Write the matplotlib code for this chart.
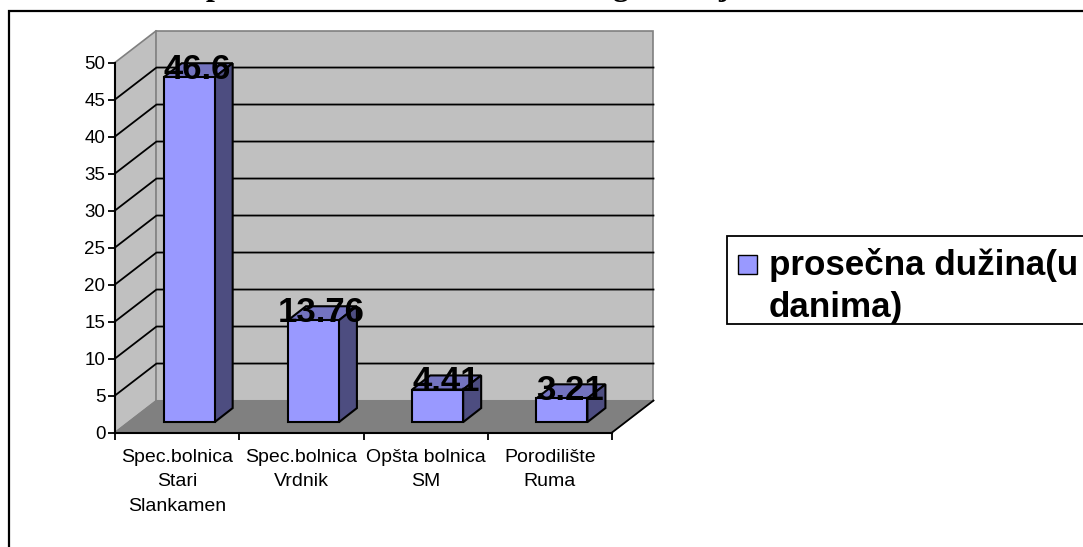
import matplotlib
matplotlib.use('Agg')
import matplotlib.pyplot as plt
from matplotlib.patches import Polygon, Rectangle

categories = ['Spec.bolnica\nStari\nSlankamen', 'Spec.bolnica\nVrdnik', 'Opšta bolnica\nSM', 'Porodilište\nRuma']
values = [46.6, 13.76, 4.41, 3.21]
value_labels = ['46.6', '13.76', '4.41', '3.21']
y_ticks = list(range(0, 55, 5))
legend_text = 'prosečna dužina(u\ndanima)'
# only the descenders of the cropped heading show at the top edge
cut_title = [('p', 215), ('g', 620), ('j', 724)]

W, H = 1083, 547
WALL = '#c0c0c0'
FLOOR = '#808080'
FRONT = '#9999ff'
TOP = '#7373bf'
SIDE = '#4d4d80'

# depth of the 3d box and of the bars, in data units
depth_x, depth_y = 0.334, 4.32
bar_off_x, bar_off_y = 0.392, 1.4
bar_w = 0.41
bar_dx, bar_dy = 0.145, 1.9

plt.rcParams['font.family'] = ['Liberation Sans', 'DejaVu Sans']
fig = plt.figure(figsize=(W / 100, H / 100), dpi=100)
# page frame, only top and left fall inside the picture
fig.add_artist(Rectangle((9 / W, 1 - 600 / H), 1200 / W, (600 - 11) / H, fill=False, ec='black', lw=1.6,
                         transform=fig.transFigure))

for ch, px in cut_title:
  fig.text(px / W, 1 + 4.5 / H, ch, ha='center', va='baseline', fontsize=23, fontweight='bold',
           family='Liberation Serif')

ax = fig.add_axes([115 / W, 1 - 432.5 / H, (612 - 115) / W, 370 / H], facecolor='none')
ax.set_xlim(0, 4)
ax.set_ylim(0, 50)


def poly(pts, fc, ec='black', lw=1.5, z=2):
  ax.add_patch(Polygon(pts, closed=True, fc=fc, ec=ec, lw=lw, zorder=z, clip_on=False, joinstyle='miter'))


# walls and floor
poly([(0, 0), (depth_x, depth_y), (depth_x, 50 + depth_y), (0, 50)], WALL, '#808080', 1.2, 1)
poly([(depth_x, depth_y), (4 + depth_x, depth_y), (4 + depth_x, 50 + depth_y), (depth_x, 50 + depth_y)], WALL, '#808080', 1.2, 1)
poly([(0, 0), (4, 0), (4 + depth_x, depth_y), (depth_x, depth_y)], FLOOR, '#808080', 0.8, 1)
ax.plot([4, 4 + depth_x], [0, depth_y], color='black', lw=1.3, zorder=1.5, clip_on=False)

# gridlines on both walls
for t in y_ticks[1:-1]:
  ax.plot([0, depth_x, 4 + depth_x], [t, t + depth_y, t + depth_y], color='black', lw=1.3, zorder=1.5, clip_on=False)

for i, v in enumerate(values):
  x0 = i + bar_off_x
  x1 = x0 + bar_w
  y0 = bar_off_y
  y1 = y0 + v
  poly([(x0, y1), (x1, y1), (x1 + bar_dx, y1 + bar_dy), (x0 + bar_dx, y1 + bar_dy)], TOP, z=3)
  poly([(x1, y0), (x1 + bar_dx, y0 + bar_dy), (x1 + bar_dx, y1 + bar_dy), (x1, y1)], SIDE, z=3)
  poly([(x0, y0), (x1, y0), (x1, y1), (x0, y1)], FRONT, z=4)
  ax.text(x0 + 0.27, y1 + 1.05, value_labels[i], ha='center', va='center', fontsize=25, fontweight='bold',
          color='black', zorder=6, clip_on=False)

for s in ['top', 'right']:
  ax.spines[s].set_visible(False)
for s in ['left', 'bottom']:
  ax.spines[s].set_linewidth(1.5)
  ax.spines[s].set_zorder(5)

ax.set_yticks(y_ticks)
ax.set_xticks(range(5))
ax.set_xticklabels([''] * 5)
ax.tick_params(axis='both', length=5, width=1.3, labelsize=13.5, pad=2)
for i, c in enumerate(categories):
  ax.text(i + 0.5, -2.2, c, ha='center', va='top', fontsize=14, linespacing=1.59, clip_on=False)

# legend box runs off the right edge
fig.add_artist(Rectangle((727 / W, 1 - 324 / H), 400 / W, 88 / H, fill=True, fc='white', ec='black', lw=1.3,
                         transform=fig.transFigure))
fig.add_artist(Rectangle((738 / W, 1 - 273.5 / H), 18.5 / W, 19 / H, fc=FRONT, ec='black', lw=1.0,
                         transform=fig.transFigure))
fig.text(769 / W, 1 - 286 / H, legend_text, ha='left', va='center', fontsize=25.2, fontweight='bold', linespacing=1.31)

fig.savefig('out.png', dpi=100)
